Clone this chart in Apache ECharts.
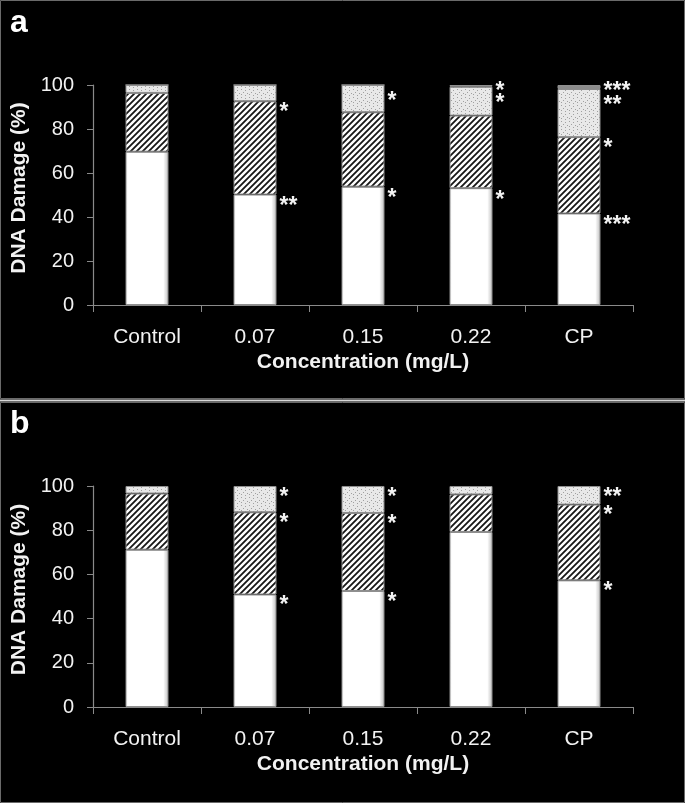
<!DOCTYPE html>
<html>
<head>
<meta charset="utf-8">
<script src="https://cdn.jsdelivr.net/npm/echarts@6/dist/echarts.min.js"></script>
<style>
html,body{margin:0;padding:0;background:#000;}
#chart{width:685px;height:803px;}
</style>
</head>
<body>
<div id="chart"></div>
<script>
// ---- data ----
var categories = ['Control', '0.07', '0.15', '0.22', 'CP'];
var yTicks = [0, 20, 40, 60, 80, 100];

// Panel a (percent of cells per damage class, stacked)
var aClass0 = [69.7, 50.2, 53.8, 53.1, 41.6];
var aClass1 = [26.7, 42.4, 33.8, 33.0, 34.7];
var aClass2 = [3.6, 7.4, 12.4, 13.1, 21.9];
var aClass3 = [0, 0, 0, 0.8, 1.8];
var aSig0 = ['', '**', '*', '*', '***'];
var aSig1 = ['', '*', '', '', '*'];
var aSig2 = ['', '', '*', '*', '**'];
var aSig3 = ['', '', '', '*', '***'];

// Panel b
var bClass0 = [71.2, 50.9, 52.5, 79.2, 57.3];
var bClass1 = [25.4, 37.2, 35.3, 17.0, 34.3];
var bClass2 = [3.4, 11.9, 12.2, 3.8, 8.4];
var bSig0 = ['', '*', '*', '', '*'];
var bSig1 = ['', '*', '*', '', '*'];
var bSig2 = ['', '*', '*', '', '**'];

var xTitle = 'Concentration (mg/L)';
var yTitle = 'DNA Damage (%)';

// ---- patterns ----
function hatchPattern() {
  var s = 6;
  var c = document.createElement('canvas');
  c.width = s; c.height = s;
  var g = c.getContext('2d');
  g.fillStyle = '#ffffff'; g.fillRect(0, 0, s, s);
  g.strokeStyle = '#161616'; g.lineWidth = 1.8;
  g.beginPath();
  g.moveTo(-1, s + 1); g.lineTo(s + 1, -1);
  g.moveTo(-4, 4); g.lineTo(4, -4);
  g.moveTo(s - 4, s + 4); g.lineTo(s + 4, s - 4);
  g.stroke();
  return c;
}
function dotPattern() {
  var c = document.createElement('canvas');
  c.width = 8; c.height = 8;
  var g = c.getContext('2d');
  g.fillStyle = '#e8e8e8'; g.fillRect(0, 0, 8, 8);
  g.fillStyle = '#a0a0a0';
  var pts = [[1,1],[5,2],[3,4],[7,5],[1,6],[5,7]];
  pts.forEach(function (p) { g.fillRect(p[0], p[1], 1, 1); });
  return c;
}
var hatch = { image: hatchPattern(), repeat: 'repeat' };
var dots = { image: dotPattern(), repeat: 'repeat' };
var whiteFill = new echarts.graphic.LinearGradient(0, 0, 1, 0, [
  { offset: 0, color: '#f0f0f0' }, { offset: 0.06, color: '#ffffff' },
  { offset: 0.88, color: '#ffffff' }, { offset: 1, color: '#bdbdbd' }
]);

var FONT = '"Liberation Sans", Arial, sans-serif';
var grids = [
  { left: 93, right: 52, top: 85, height: 220 },
  { left: 93, right: 52, top: 486, height: 221 }
];

function xAxis(i) {
  return {
    type: 'category', gridIndex: i, data: categories,
    axisLine: { lineStyle: { color: '#8a8a8a', width: 1.2 } },
    axisTick: { show: true, length: 7, lineStyle: { color: '#8a8a8a' } },
    axisLabel: { color: '#f2f2f2', fontSize: 21, fontFamily: FONT, margin: 22 },
    name: xTitle, nameLocation: 'middle', nameGap: 47,
    nameTextStyle: { color: '#f2f2f2', fontSize: 21, fontWeight: 'bold', fontFamily: FONT }
  };
}
function yAxis(i) {
  return {
    type: 'value', gridIndex: i, min: 0, max: 100, interval: 20,
    axisLine: { show: true, lineStyle: { color: '#8a8a8a', width: 1.2 } },
    axisTick: { show: true, length: 6, lineStyle: { color: '#8a8a8a' } },
    splitLine: { show: false },
    axisLabel: { color: '#f2f2f2', fontSize: 20, fontFamily: FONT, margin: 19,
      formatter: function (v) { return yTicks.indexOf(v) >= 0 ? String(v) : ''; } },
    name: yTitle, nameLocation: 'middle', nameGap: 62,
    nameTextStyle: { color: '#f2f2f2', fontSize: 21, fontWeight: 'bold', fontFamily: FONT,
      padding: [0, 0, 0, 14] }
  };
}

function seg(i, stack, values, sig, fill, dy) {
  return {
    type: 'bar', stack: stack, xAxisIndex: i, yAxisIndex: i,
    barWidth: 43, data: values,
    itemStyle: { color: fill, borderColor: '#8f8f8f', borderWidth: 1 },
    label: {
      show: true, position: ['100%', 0], offset: [3, dy],
      align: 'left', verticalAlign: 'top',
      color: '#f2f2f2', fontSize: 23, fontWeight: 'bold', fontFamily: FONT,
      formatter: function (p) { return sig[p.dataIndex]; }
    },
    emphasis: { disabled: true }
  };
}

var option = {
  backgroundColor: '#000',
  animation: false,
  grid: grids,
  xAxis: [xAxis(0), xAxis(1)],
  yAxis: [yAxis(0), yAxis(1)],
  series: [
    seg(0, 'a', aClass0, aSig0, whiteFill, 1),
    seg(0, 'a', aClass1, aSig1, hatch, 0),
    seg(0, 'a', aClass2, aSig2, dots, 5),
    seg(0, 'a', aClass3, aSig3, '#8c8c8c', -5),
    seg(1, 'b', bClass0, bSig0, whiteFill, 0),
    seg(1, 'b', bClass1, bSig1, hatch, 0),
    seg(1, 'b', bClass2, bSig2, dots, 0)
  ],
  graphic: [
    { type: 'rect', shape: { x: 0.5, y: 0.5, width: 684, height: 398 },
      style: { fill: 'none', stroke: '#6a6a6a', lineWidth: 1 }, silent: true },
    { type: 'rect', shape: { x: 0.5, y: 402.5, width: 684, height: 400 },
      style: { fill: 'none', stroke: '#6a6a6a', lineWidth: 1 }, silent: true },
    { type: 'line', shape: { x1: 0, y1: 400.5, x2: 685, y2: 400.5 },
      style: { stroke: '#d8d8d8', lineWidth: 2 }, silent: true },
    { type: 'text', left: 10, top: 7,
      style: { text: 'a', fill: '#ffffff', font: 'bold 32px ' + FONT } },
    { type: 'text', left: 10, top: 408,
      style: { text: 'b', fill: '#ffffff', font: 'bold 32px ' + FONT } }
  ]
};

var chart = echarts.init(document.getElementById('chart'), null, { renderer: 'canvas' });
chart.setOption(option);
</script>
</body>
</html>
